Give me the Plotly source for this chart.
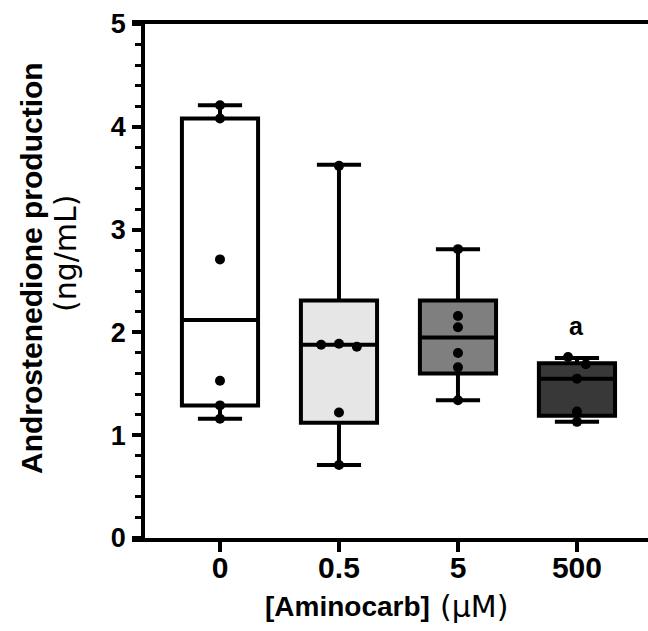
import plotly.graph_objects as go

# ---- data ----
categories = ["0", "0.5", "5", "500"]
points_0 = [4.21, 4.08, 2.71, 1.53, 1.29, 1.16]
points_05 = [3.62, 1.89, 1.88, 1.86, 1.22, 0.71]
points_5 = [2.81, 2.16, 2.05, 1.80, 1.66, 1.34]
points_500 = [1.76, 1.69, 1.55, 1.23, 1.13]
box_min = [1.16, 0.71, 1.34, 1.13]
box_q1 = [1.29, 1.12, 1.60, 1.19]
box_median = [2.12, 1.88, 1.95, 1.55]
box_q3 = [4.08, 2.31, 2.31, 1.70]
box_max = [4.21, 3.63, 2.81, 1.75]
fill_colors = ["#ffffff", "#e6e6e6", "#7f7f7f", "#383838"]
sig_label = "a"
sig_group = 3
sig_y = 2.06

groups = [points_0, points_05, points_5, points_500]

FONT = "Arial, Liberation Sans, sans-serif"
FONT_REG = "DejaVu Sans, Arial, sans-serif"


def swarm_offsets(vals, thresh=0.1, step=0.15):
    """Simple beeswarm: spread points whose values are close."""
    order = sorted(range(len(vals)), key=lambda i: -vals[i])
    offs = [0.0] * len(vals)
    clusters = []
    cur = [order[0]]
    for i in order[1:]:
        if abs(vals[cur[-1]] - vals[i]) < thresh:
            cur.append(i)
        else:
            clusters.append(cur)
            cur = [i]
    clusters.append(cur)
    for cl in clusters:
        n = len(cl)
        if n == 1:
            continue
        if n % 2 == 1:
            seq = [0.0]
            k = 1
            while len(seq) < n:
                seq += [-k * step, k * step]
                k += 1
        else:
            seq = []
            k = 0
            while len(seq) < n:
                seq += [-(k + 0.5) * step, (k + 0.5) * step]
                k += 1
        for idx, o in zip(cl, seq[:n]):
            offs[idx] = o
    return offs


fig = go.Figure()

for i, cat in enumerate(categories):
    fig.add_trace(go.Box(
        x=[i], q1=[box_q1[i]], median=[box_median[i]], q3=[box_q3[i]],
        lowerfence=[box_min[i]], upperfence=[box_max[i]],
        width=0.64, whiskerwidth=0.58,
        fillcolor=fill_colors[i],
        line=dict(color="black", width=4),
        boxpoints=False, hoverinfo="skip", showlegend=False,
    ))

px, py = [], []
for i, vals in enumerate(groups):
    offs = swarm_offsets(vals)
    for v, o in zip(vals, offs):
        px.append(i + o)
        py.append(v)

fig.add_trace(go.Scatter(
    x=px, y=py, mode="markers",
    marker=dict(color="black", size=10),
    showlegend=False, hoverinfo="skip",
))

fig.add_annotation(
    x=sig_group, y=sig_y, xref="x", yref="y", text="<b>%s</b>" % sig_label,
    showarrow=False, xanchor="center", yanchor="middle",
    font=dict(family=FONT, size=25, color="black"),
)

# axis titles
fig.add_annotation(
    x=(31 - 132) / 516, y=(538 - 268) / 514, xref="paper", yref="paper",
    text="<b>Androstenedione production</b>", textangle=-90,
    showarrow=False, xanchor="center", yanchor="middle",
    font=dict(family=FONT, size=30, color="black"),
)
fig.add_annotation(
    x=(66 - 132) / 516, y=(538 - 253) / 514, xref="paper", yref="paper",
    text="(ng/mL)", textangle=-90,
    showarrow=False, xanchor="center", yanchor="middle",
    font=dict(family=FONT_REG, size=30, color="black"),
)
fig.add_annotation(
    x=(432 - 132) / 516, y=(538 - 606) / 514, xref="paper", yref="paper",
    text="<b>[Aminocarb]</b>",
    showarrow=False, xanchor="right", yanchor="middle",
    font=dict(family=FONT, size=28, color="black"),
)
fig.add_annotation(
    x=(438 - 132) / 516, y=(538 - 606) / 514, xref="paper", yref="paper",
    text="(μM)",
    showarrow=False, xanchor="left", yanchor="middle",
    font=dict(family=FONT_REG, size=30, color="black"),
)

fig.update_layout(
    width=648, height=631,
    margin=dict(l=132, r=0, t=24, b=93, pad=0),
    paper_bgcolor="white", plot_bgcolor="white",
    showlegend=False,
    xaxis=dict(
        range=[-0.7395, 3.597],
        tickmode="array", tickvals=list(range(len(categories))), ticktext=categories,
        showline=True, linecolor="black", linewidth=4, mirror=True,
        ticks="outside", ticklen=10, tickwidth=3.5, tickcolor="black",
        showgrid=False, zeroline=False,
        tickfont=dict(family=FONT, size=30, color="black", weight="bold"),
        ticklabelstandoff=-10,
    ),
    yaxis=dict(
        range=[0, 5], anchor="free", position=11 / 516,
        tickmode="linear", tick0=0, dtick=1,
        showline=True, linecolor="black", linewidth=3.5,
        ticks="outside", ticklen=9, tickwidth=3.5, tickcolor="black",
        minor=dict(dtick=0.2, ticks="outside", ticklen=6, tickwidth=3, tickcolor="black", showgrid=False),
        showgrid=False, zeroline=False,
        tickfont=dict(family=FONT, size=27, color="black", weight="bold"),
        ticklabelstandoff=1,
    ),
)

fig.write_html("out.html")
